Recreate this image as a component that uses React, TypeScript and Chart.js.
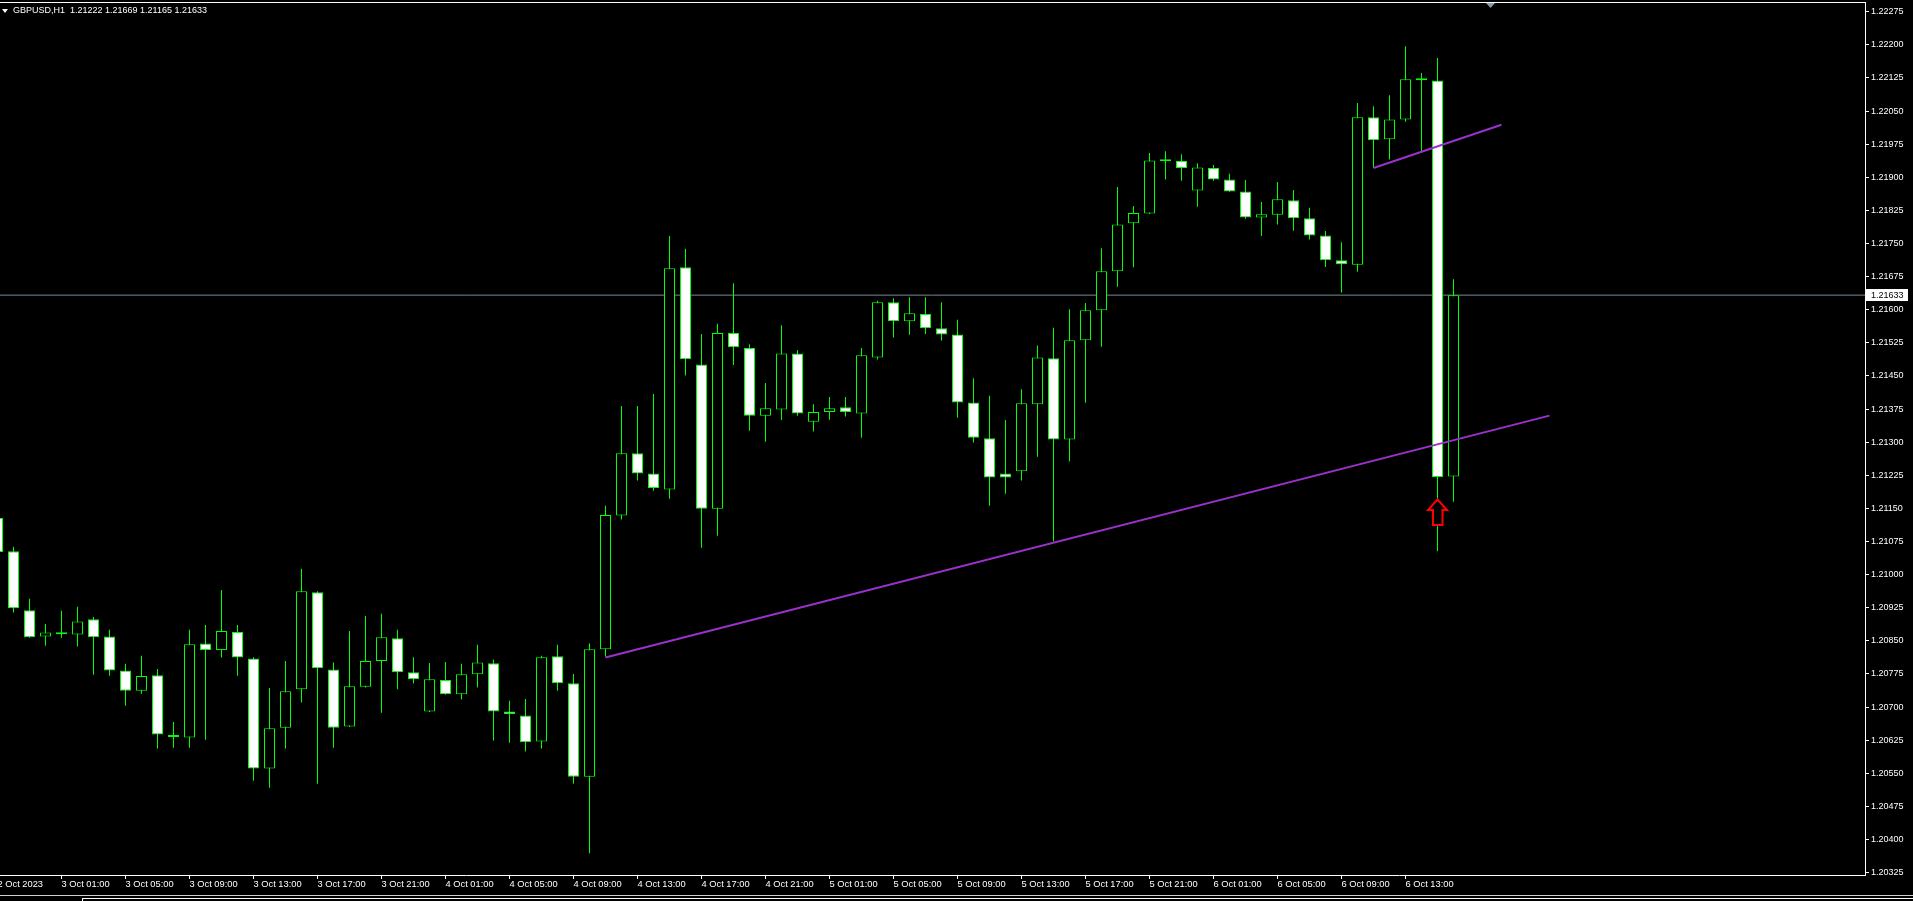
import React, { useEffect, useRef } from 'react';
import { Chart, registerables } from 'chart.js';

Chart.register(...registerables);

const symbolName = 'GBPUSD';
const timeframe = 'H1';
// bar index of the first candle (0 = 3 Oct 01:00, one bar per hour)
const firstBarIndex = -4;

const opens = [
  1.21128, 1.21053, 1.20919, 1.20860, 1.20865, 1.20864, 1.20899, 1.20860, 1.20783, 1.20737,
  1.20772, 1.20633, 1.20631, 1.20844, 1.20829, 1.20870, 1.20810, 1.20561, 1.20653, 1.20740,
  1.20960, 1.20785, 1.20656, 1.20746, 1.20804, 1.20856, 1.20779, 1.20690, 1.20761, 1.20729,
  1.20774, 1.20799, 1.20690, 1.20681, 1.20622, 1.20815, 1.20754, 1.20542, 1.20831, 1.21134,
  1.21275, 1.21229, 1.21193, 1.21696, 1.21476, 1.21149, 1.21547, 1.21513, 1.21360, 1.21374,
  1.21501, 1.21346, 1.21368, 1.21379, 1.21365, 1.21492, 1.21617, 1.21574, 1.21590, 1.21558,
  1.21544, 1.21390, 1.21309, 1.21229, 1.21234, 1.21386, 1.21490, 1.21306, 1.21531, 1.21599,
  1.21687, 1.21796, 1.21818, 1.21937, 1.21937, 1.21870, 1.21921, 1.21895, 1.21868, 1.21809,
  1.21815, 1.21848, 1.21807, 1.21768, 1.21712, 1.21702, 1.22036, 1.21986, 1.22031, 1.22121,
  1.22119, 1.21222,
];
const highs = [
  1.21135, 1.21063, 1.20945, 1.20888, 1.20918, 1.20927, 1.20904, 1.20875, 1.20798, 1.20816,
  1.20786, 1.20666, 1.20875, 1.20886, 1.20965, 1.20886, 1.20813, 1.20743, 1.20804, 1.21013,
  1.20962, 1.20801, 1.20872, 1.20906, 1.20911, 1.20875, 1.20813, 1.20800, 1.20802, 1.20798,
  1.20841, 1.20807, 1.20714, 1.20718, 1.20816, 1.20841, 1.20775, 1.20844, 1.21156, 1.21382,
  1.21382, 1.21409, 1.21767, 1.21738, 1.21545, 1.21568, 1.21660, 1.21522, 1.21434, 1.21565,
  1.21509, 1.21386, 1.21402, 1.21402, 1.21513, 1.21620, 1.21626, 1.21628, 1.21628, 1.21617,
  1.21577, 1.21445, 1.21405, 1.21350, 1.21420, 1.21519, 1.21559, 1.21601, 1.21615, 1.21739,
  1.21878, 1.21835, 1.21955, 1.21959, 1.21952, 1.21932, 1.21928, 1.21908, 1.21894, 1.21844,
  1.21889, 1.21871, 1.21831, 1.21778, 1.21753, 1.22068, 1.22061, 1.22086, 1.22197, 1.22136,
  1.22170, 1.21669,
];
const lows = [
  1.21045, 1.20914, 1.20857, 1.20839, 1.20857, 1.20837, 1.20773, 1.20771, 1.20703, 1.20730,
  1.20606, 1.20608, 1.20608, 1.20626, 1.20812, 1.20771, 1.20533, 1.20517, 1.20606, 1.20710,
  1.20526, 1.20608, 1.20655, 1.20744, 1.20687, 1.20740, 1.20753, 1.20689, 1.20728, 1.20717,
  1.20744, 1.20624, 1.20619, 1.20599, 1.20606, 1.20737, 1.20526, 1.20369, 1.20814, 1.21125,
  1.21213, 1.21190, 1.21172, 1.21451, 1.21061, 1.21088, 1.21475, 1.21326, 1.21301, 1.21350,
  1.21360, 1.21324, 1.21351, 1.21358, 1.21310, 1.21487, 1.21537, 1.21543, 1.21545, 1.21530,
  1.21355, 1.21299, 1.21156, 1.21183, 1.21213, 1.21267, 1.21075, 1.21256, 1.21389, 1.21516,
  1.21652, 1.21696, 1.21817, 1.21895, 1.21892, 1.21833, 1.21892, 1.21867, 1.21806, 1.21767,
  1.21793, 1.21779, 1.21759, 1.21697, 1.21639, 1.21686, 1.21921, 1.21940, 1.22026, 1.21959,
  1.21053, 1.21165,
];
const closes = [
  1.21051, 1.20924, 1.20858, 1.20869, 1.20867, 1.20894, 1.20858, 1.20783, 1.20737, 1.20770,
  1.20638, 1.20632, 1.20842, 1.20829, 1.20872, 1.20812, 1.20561, 1.20652, 1.20736, 1.20962,
  1.20788, 1.20653, 1.20747, 1.20804, 1.20858, 1.20779, 1.20763, 1.20763, 1.20729, 1.20774,
  1.20801, 1.20690, 1.20684, 1.20620, 1.20813, 1.20754, 1.20542, 1.20831, 1.21135, 1.21275,
  1.21229, 1.21196, 1.21694, 1.21488, 1.21149, 1.21547, 1.21515, 1.21360, 1.21377, 1.21501,
  1.21365, 1.21368, 1.21377, 1.21368, 1.21497, 1.21617, 1.21574, 1.21592, 1.21558, 1.21544,
  1.21390, 1.21310, 1.21220, 1.21220, 1.21388, 1.21492, 1.21306, 1.21531, 1.21599, 1.21687,
  1.21793, 1.21819, 1.21938, 1.21936, 1.21921, 1.21922, 1.21895, 1.21868, 1.21809, 1.21816,
  1.21850, 1.21807, 1.21768, 1.21712, 1.21703, 1.22036, 1.21984, 1.22031, 1.22122, 1.22120,
  1.21221, 1.21633,
];

const xTickBars = [-4, 0, 4, 8, 12, 16, 20, 24, 28, 32, 36, 40, 44, 48, 52, 56, 60, 64, 68, 72, 76, 80, 84];
const xTickLabels = [
  '2 Oct 2023', '3 Oct 01:00', '3 Oct 05:00', '3 Oct 09:00', '3 Oct 13:00', '3 Oct 17:00',
  '3 Oct 21:00', '4 Oct 01:00', '4 Oct 05:00', '4 Oct 09:00', '4 Oct 13:00', '4 Oct 17:00',
  '4 Oct 21:00', '5 Oct 01:00', '5 Oct 05:00', '5 Oct 09:00', '5 Oct 13:00', '5 Oct 17:00',
  '5 Oct 21:00', '6 Oct 01:00', '6 Oct 05:00', '6 Oct 09:00', '6 Oct 13:00',
];
const yTickValues = [
  1.20325, 1.20400, 1.20475, 1.20550, 1.20625, 1.20700, 1.20775, 1.20850, 1.20925,
  1.21000, 1.21075, 1.21150, 1.21225, 1.21300, 1.21375, 1.21450, 1.21525, 1.21600,
  1.21675, 1.21750, 1.21825, 1.21900, 1.21975, 1.22050, 1.22125, 1.22200, 1.22275,
];

const trendLongBars = [34, 93];
const trendLongPrices = [1.20812, 1.21360];
const trendShortBars = [82, 90];
const trendShortPrices = [1.21921, 1.22019];

const arrowBar = 86;
const arrowPrice = 1.21170;

const xMin = -3.84375;
const xMax = 112.71875;
const yMin = 1.203195;
const yMax = 1.22297;

const FONT = '"Liberation Sans", Arial, sans-serif';

export default function App() {
  const ref = useRef<HTMLCanvasElement>(null);

  useEffect(() => {
    if (!ref.current) return;
    const n = opens.length;
    const bars = opens.map((_, i) => i + firstBarIndex);
    const bodyData = bars.map((b, i) => ({ x: b, y: [opens[i], closes[i]] }));
    const wickData = bars.map((b, i) => ({ x: b, y: [lows[i], highs[i]] }));
    const bodyFill = bars.map((_, i) => (closes[i] < opens[i] ? '#ffffff' : '#000000'));
    const lastClose = closes[n - 1];
    const fmt = (v: number) => v.toFixed(5);

    const overlay = {
      id: 'mt4overlay',
      afterDraw(chart: any) {
        const ctx = chart.ctx;
        const area = chart.chartArea;
        const xs = chart.scales.x;
        const ys = chart.scales.y;
        ctx.save();
        // top border
        ctx.fillStyle = '#ffffff';
        ctx.fillRect(0, 2, area.right + 1, 1);
        // title
        ctx.beginPath();
        ctx.moveTo(2, 9);
        ctx.lineTo(8, 9);
        ctx.lineTo(5, 13);
        ctx.closePath();
        ctx.fill();
        ctx.font = `9px ${FONT}`;
        ctx.textBaseline = 'middle';
        ctx.textAlign = 'left';
        const title = `${symbolName},${timeframe}  ${fmt(opens[n - 1])} ${fmt(highs[n - 1])} ${fmt(lows[n - 1])} ${fmt(closes[n - 1])}`;
        ctx.fillText(title, 13, 11);
        // chart shift marker
        ctx.fillStyle = '#8a9aab';
        ctx.beginPath();
        ctx.moveTo(1486, 3);
        ctx.lineTo(1495, 3);
        ctx.lineTo(1490.5, 8);
        ctx.closePath();
        ctx.fill();
        // red arrow
        const ax = xs.getPixelForValue(arrowBar);
        const ay = ys.getPixelForValue(arrowPrice);
        ctx.beginPath();
        ctx.moveTo(ax, ay);
        ctx.lineTo(ax + 9.5, ay + 10.5);
        ctx.lineTo(ax + 5, ay + 10.5);
        ctx.lineTo(ax + 5, ay + 25.5);
        ctx.lineTo(ax - 4.5, ay + 25.5);
        ctx.lineTo(ax - 4.5, ay + 10.5);
        ctx.lineTo(ax - 9.5, ay + 10.5);
        ctx.closePath();
        ctx.fillStyle = '#000000';
        ctx.fill();
        ctx.strokeStyle = '#ff0000';
        ctx.lineWidth = 2;
        ctx.stroke();
        // current price label
        const py = ys.getPixelForValue(lastClose);
        ctx.fillStyle = '#ffffff';
        ctx.fillRect(area.right + 1, Math.round(py) - 6, 42, 12);
        ctx.fillStyle = '#000000';
        ctx.font = `9px ${FONT}`;
        ctx.fillText(fmt(lastClose), area.right + 6, py);
        // bottom strip
        ctx.fillStyle = '#cfcfcf';
        ctx.fillRect(0, 895, 1913, 1);
        ctx.fillStyle = '#ffffff';
        ctx.fillRect(82, 898, 1831, 1);
        ctx.fillRect(82, 898, 1, 3);
        ctx.restore();
      },
    };

    const gridOpts = {
      display: true,
      drawOnChartArea: false,
      drawTicks: true,
      tickLength: 4,
      color: '#ffffff',
      tickColor: '#ffffff',
      offset: false,
    };

    const chart = new Chart(ref.current, {
      type: 'bar',
      data: {
        datasets: [
          {
            type: 'line',
            label: 'trend long',
            data: trendLongBars.map((b, i) => ({ x: b, y: trendLongPrices[i] })),
            borderColor: '#9932CC',
            borderWidth: 2,
            pointRadius: 0,
            order: -2,
          } as any,
          {
            type: 'line',
            label: 'trend short',
            data: trendShortBars.map((b, i) => ({ x: b, y: trendShortPrices[i] })),
            borderColor: '#9932CC',
            borderWidth: 2,
            pointRadius: 0,
            order: -1,
          } as any,
          {
            type: 'bar',
            label: 'bodies',
            data: bodyData,
            backgroundColor: bodyFill,
            borderColor: '#00ff00',
            borderWidth: 1,
            borderSkipped: false,
            barThickness: 11,
            minBarLength: 2,
            grouped: false,
            inflateAmount: 0,
            order: 0,
          } as any,
          {
            type: 'bar',
            label: 'wicks',
            data: wickData,
            backgroundColor: '#00ff00',
            borderWidth: 0,
            barThickness: 1,
            grouped: false,
            inflateAmount: 0,
            order: 1,
          } as any,
          {
            type: 'line',
            label: 'bid',
            data: [
              { x: xMin, y: lastClose },
              { x: xMax, y: lastClose },
            ],
            borderColor: '#778899',
            borderWidth: 1,
            pointRadius: 0,
            order: 2,
          } as any,
        ],
      },
      options: {
        responsive: false,
        animation: false,
        events: [],
        layout: { padding: { top: 2, left: 0, right: 0, bottom: 0 } },
        plugins: {
          legend: { display: false },
          tooltip: { enabled: false },
          title: { display: false },
        },
        scales: {
          x: {
            type: 'linear',
            position: 'bottom',
            min: xMin,
            max: xMax,
            bounds: 'data',
            offset: false,
            afterBuildTicks: (s: any) => {
              s.ticks = xTickBars.map((v) => ({ value: v }));
            },
            afterFit: (s: any) => {
              s.height = 26;
              s.paddingLeft = 0;
              s.paddingRight = 0;
            },
            ticks: {
              autoSkip: false,
              maxRotation: 0,
              minRotation: 0,
              align: 'start',
              padding: 0,
              color: '#ffffff',
              font: { size: 9.3, family: FONT },
              callback: (_v: any, i: number) => xTickLabels[i],
            },
            grid: gridOpts,
            border: { display: true, color: '#ffffff', width: 1 },
          },
          y: {
            type: 'linear',
            position: 'right',
            min: yMin,
            max: yMax,
            bounds: 'data',
            afterBuildTicks: (s: any) => {
              s.ticks = yTickValues.map((v) => ({ value: v }));
            },
            afterFit: (s: any) => {
              s.width = 48;
              s.paddingTop = 0;
              s.paddingBottom = 0;
            },
            ticks: {
              autoSkip: false,
              padding: 2,
              color: '#ffffff',
              font: { size: 9, family: FONT },
              callback: (v: any) => Number(v).toFixed(5),
            },
            grid: gridOpts,
            border: { display: true, color: '#ffffff', width: 1 },
          },
        },
      } as any,
      plugins: [overlay],
    });

    return () => chart.destroy();
  }, []);

  return (
    <div style={{ position: 'fixed', left: 0, top: 0, width: 1913, height: 901, background: '#000000' }}>
      <canvas ref={ref} width={1913} height={901} style={{ display: 'block' }} />
    </div>
  );
}
